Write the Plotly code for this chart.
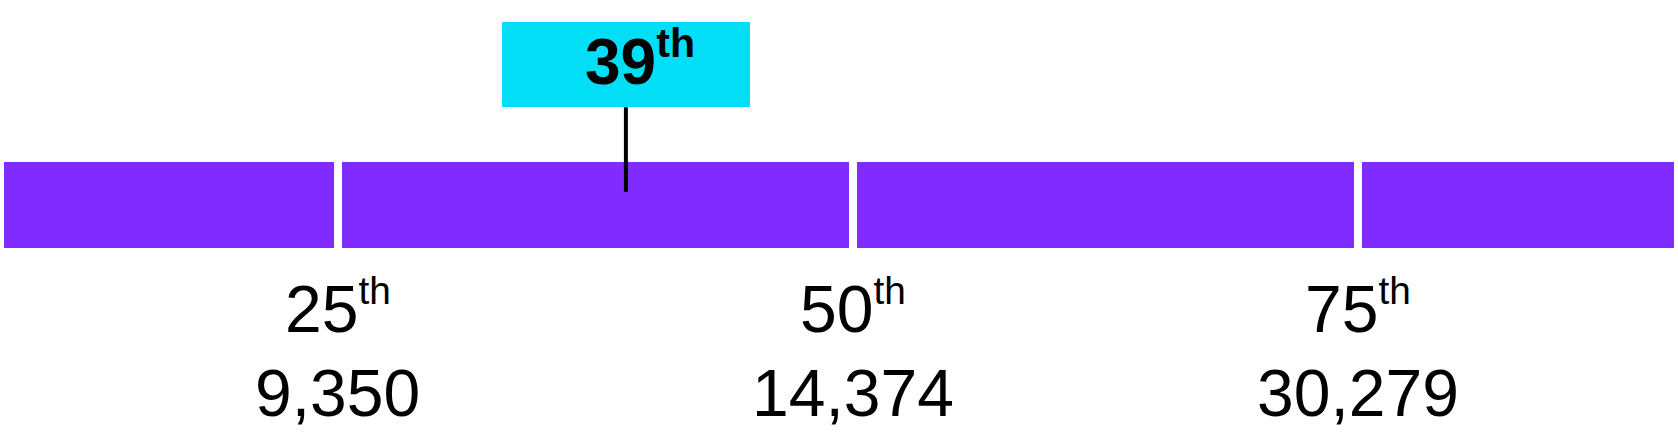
import numpy as np
import plotly.graph_objects as go

# ---- data ----
quartile_percentiles = [0, 25, 50, 75, 100]
segment_widths = [337.5, 515, 505, 320.5]          # display width of each quartile band
label_percentiles = [25, 50, 75]
label_values = [9350, 14374, 30279]
marker_percentile = 39

# ---- styling ----
BAR_COLOR = "#802BFF"
BOX_COLOR = "#02DEF5"
FONT = "Liberation Sans, Arial, sans-serif"
W, H = 1678, 444
BAR_CENTER = 205
BAR_THICK = 93.4

bounds = np.concatenate([[0], np.cumsum(segment_widths)])
starts = bounds[:-1]

def pct_to_x(p):
    return float(np.interp(p, quartile_percentiles, bounds))

def ordinal(n, scale=84):
    return f"{n}<sup><span style='font-size:{scale}%'>th</span></sup>"

fig = go.Figure()
fig.add_trace(go.Bar(
    y=[BAR_CENTER] * len(segment_widths),
    x=segment_widths,
    base=starts,
    orientation="h",
    width=BAR_THICK,
    marker=dict(color=BAR_COLOR, line=dict(color="white", width=8)),
    hoverinfo="skip",
    showlegend=False,
))

for p, v in zip(label_percentiles, label_values):
    x = pct_to_x(p)
    fig.add_annotation(x=x, y=307, text=ordinal(p), showarrow=False,
                       xanchor="center", yanchor="middle",
                       font=dict(family=FONT, size=66, color="black"))
    fig.add_annotation(x=x, y=393, text=f"{v:,}", showarrow=False,
                       xanchor="center", yanchor="middle",
                       font=dict(family=FONT, size=66, color="black"))

mx = pct_to_x(marker_percentile)
# label box with leader line down into the bar
fig.add_annotation(
    x=mx, y=191.7, ax=0, ay=-127, axref="pixel", ayref="pixel",
    text=" ",
    showarrow=True, arrowhead=0, arrowwidth=4, arrowcolor="black",
    bgcolor=BOX_COLOR, width=248, height=85, borderpad=0, borderwidth=0,
    font=dict(family=FONT, size=10, color="black"),
)
fig.add_annotation(
    x=mx, y=59, xshift=14, showarrow=False,
    text=f"<b>{ordinal(marker_percentile, 92)}</b>",
    xanchor="center", yanchor="middle",
    font=dict(family=FONT, size=64, color="black"),
)

fig.update_layout(
    width=W, height=H,
    margin=dict(l=0, r=0, t=0, b=0),
    paper_bgcolor="white", plot_bgcolor="white",
    xaxis=dict(range=[0, bounds[-1]], visible=False, fixedrange=True),
    yaxis=dict(range=[H, 0], visible=False, fixedrange=True),
    bargap=0,
)
fig.write_html(
    "out.html",
    config={"displayModeBar": False},
    post_script="document.body.style.margin='0';document.body.style.overflow='hidden';",
)
